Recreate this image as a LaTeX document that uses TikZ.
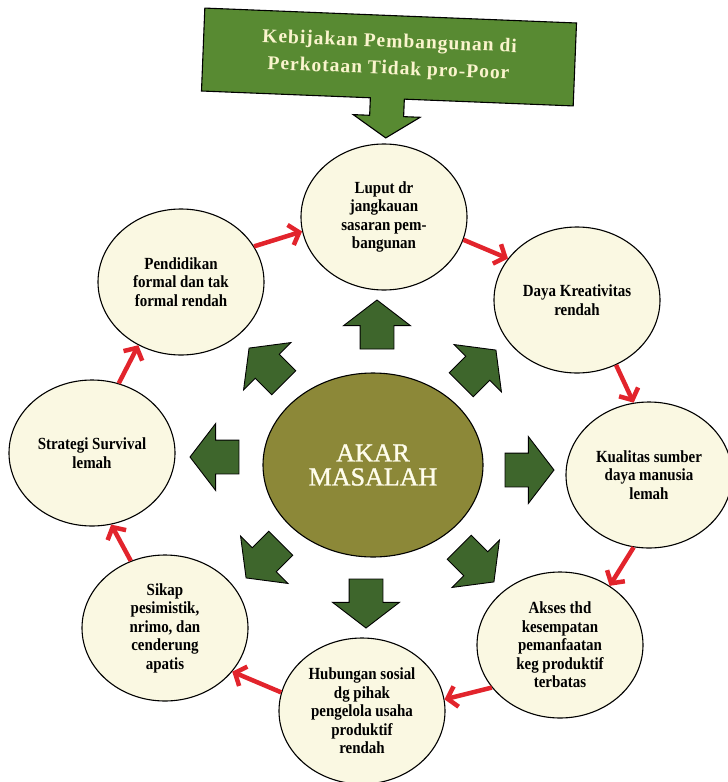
\documentclass[tikz,border=0pt]{standalone}
\usepackage{fontspec}
\setmainfont{Liberation Serif}
\newfontfamily\issuefamily{Liberation Serif}[FakeStretch=0.88]
\newfontfamily\bannerfamily{Liberation Serif}[LetterSpace=5]
\newfontfamily\rootfamily{Liberation Serif}[FakeBold=1.2]
\usetikzlibrary{shapes.geometric,shapes.arrows,arrows.meta}

\definecolor{bannergreen}{RGB}{88,138,50}
\definecolor{blockgreen}{RGB}{62,102,44}
\definecolor{rootolive}{RGB}{140,136,56}
\definecolor{cream}{RGB}{250,248,226}
\definecolor{linkred}{RGB}{226,36,44}
\definecolor{bannertext}{RGB}{250,244,205}
\definecolor{roottext}{RGB}{255,253,235}

\begin{document}
\begin{tikzpicture}[x=1pt,y=-1pt,
  issue/.style={ellipse, draw=black, line width=1.1pt, fill=cream,
    minimum width=166pt, minimum height=146pt, inner sep=0pt, align=center,
    font=\issuefamily\bfseries\fontsize{17}{18.5}\selectfont},
  root/.style={ellipse, draw=black, line width=1.1pt, fill=rootolive,
    minimum width=220pt, minimum height=184pt, inner sep=0pt, align=center,
    text=roottext, font=\rootfamily\fontsize{26}{24}\selectfont},
  spoke/.style={single arrow, draw=black, line width=0.9pt, fill=blockgreen,
    minimum height=49pt, inner xsep=0pt, inner ysep=16.5pt,
    single arrow head extend=16.5pt, single arrow tip angle=105},
  link/.style={draw=linkred, line width=4.5pt,
    -{Straight Barb[length=9pt,width=21pt]}},
  banner/.style={draw=black, line width=1.1pt, fill=bannergreen},
  bannerlabel/.style={align=center, text=bannertext, inner sep=0pt,
    font=\bannerfamily\bfseries\fontsize{19.5}{27}\selectfont}
]
\useasboundingbox (0,0) rectangle (728,782);

% policy banner with its downward pointer
\begin{scope}[rotate around={-2.3:(389,57)}, transform shape]
  \draw[banner] (203,15.5) -- (575,15.5) -- (575,98.5) -- (406,98.5)
    -- (406,116) -- (422.5,116) -- (389,138) -- (355.5,116) -- (372,116)
    -- (372,98.5) -- (203,98.5) -- cycle;
  \node[bannerlabel] (policy) at (389,56)
    {Kebijakan Pembangunan di\\Perkotaan Tidak pro-Poor};
\end{scope}

% root cause in the middle
\node[root] (root) at (373,465) {AKAR\\MASALAH};

% spokes radiating from the root cause
\node[spoke, rotate=90]  (sN)  at (377,331) {};
\node[spoke, rotate=45]  (sNE) at (474,372) {};
\node[spoke, rotate=0]   (sE)  at (523,470) {};
\node[spoke, rotate=315] (sSE) at (472,560) {};
\node[spoke, rotate=270] (sS)  at (366,597) {};
\node[spoke, rotate=225] (sSW) at (268,556) {};
\node[spoke, rotate=180] (sW)  at (221,457) {};
\node[spoke, rotate=135] (sNW) at (271,370) {};

% the cycle of problems
\node[issue] (luput) at (384,217) {Luput dr\\jangkauan\\sasaran pem-\\bangunan};
\node[issue] (daya)  at (577,300) {Daya Kreativitas\\rendah};
\node[issue] (kual)  at (649,475) {Kualitas sumber\\daya manusia\\lemah};
\node[issue] (akses) at (560,645) {Akses thd\\kesempatan\\pemanfaatan\\keg produktif\\terbatas};
\node[issue] (hub)   at (362,711) {Hubungan sosial\\dg pihak\\pengelola usaha\\produktif\\rendah};
\node[issue] (sikap) at (165,628) {Sikap\\pesimistik,\\nrimo, dan\\cenderung\\apatis};
\node[issue] (strat) at (92,453)  {Strategi Survival\\lemah};
\node[issue] (pend)  at (181,282) {Pendidikan\\formal dan tak\\formal rendah};

% links around the cycle
\draw[link] (pend.26)   -- (luput.190);
\draw[link] (luput.344) -- (daya.149);
\draw[link] (daya.301)  -- (kual.102);
\draw[link] (kual.258)  -- (akses.50);
\draw[link] (akses.212) -- (hub.8);
\draw[link] (hub.167)   -- (sikap.327);
\draw[link] (sikap.117) -- (strat.285);
\draw[link] (strat.69)  -- (pend.236);
\end{tikzpicture}
\end{document}
